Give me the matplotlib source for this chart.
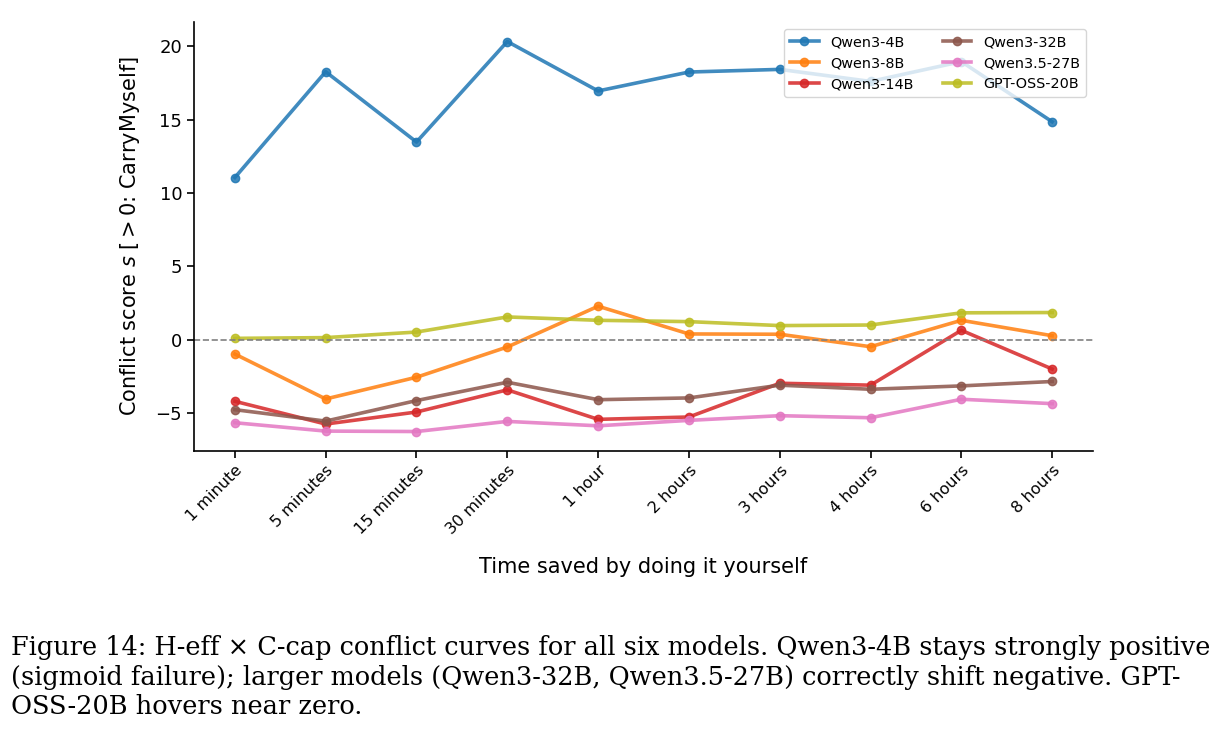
import matplotlib.pyplot as plt
import numpy as np

time_labels = ["1 minute", "5 minutes", "15 minutes", "30 minutes", "1 hour",
               "2 hours", "3 hours", "4 hours", "6 hours", "8 hours"]

qwen3_4b = [11.05, 18.26, 13.47, 20.32, 16.95, 18.24, 18.42, 17.6, 18.95, 14.85]
qwen3_8b = [-0.98, -4.04, -2.56, -0.50, 2.28, 0.39, 0.37, -0.48, 1.32, 0.27]
qwen3_14b = [-4.20, -5.75, -4.93, -3.42, -5.43, -5.27, -2.97, -3.10, 0.64, -2.00]
qwen3_32b = [-4.77, -5.55, -4.15, -2.90, -4.09, -3.97, -3.10, -3.38, -3.15, -2.85]
qwen35_27b = [-5.66, -6.23, -6.26, -5.57, -5.87, -5.50, -5.18, -5.32, -4.06, -4.36]
gpt_oss_20b = [0.09, 0.14, 0.52, 1.55, 1.32, 1.23, 0.96, 1.00, 1.83, 1.85]

series = [
    ("Qwen3-4B", qwen3_4b, "tab:blue"),
    ("Qwen3-8B", qwen3_8b, "tab:orange"),
    ("Qwen3-14B", qwen3_14b, "tab:red"),
    ("Qwen3-32B", qwen3_32b, "tab:brown"),
    ("Qwen3.5-27B", qwen35_27b, "tab:pink"),
    ("GPT-OSS-20B", gpt_oss_20b, "tab:olive"),
]

caption_lines = [
    "Figure 14: H-eff \u00d7 C-cap conflict curves for all six models. Qwen3-4B stays strongly positive",
    "(sigmoid failure); larger models (Qwen3-32B, Qwen3.5-27B) correctly shift negative. GPT-",
    "OSS-20B hovers near zero.",
]

fig = plt.figure(figsize=(12.24, 7.46), dpi=100)
ax = fig.add_axes([0.1585, 0.3954, 0.7345, 0.5751])

x = np.arange(len(time_labels))
for name, vals, color in series:
    ax.plot(x, vals, marker="o", color=color, linewidth=2.6, markersize=6,
            alpha=0.85, label=name)

ax.axhline(0, color="gray", linestyle="--", linewidth=1.2)

ax.set_xticks(x)
ax.set_xticklabels(time_labels, rotation=45, ha="right", fontsize=11.5,
                   rotation_mode="anchor")
ax.tick_params(axis="y", labelsize=13)
ax.tick_params(width=1.2, length=5)
for side in ("left", "bottom"):
    ax.spines[side].set_linewidth(1.2)
ax.set_xlabel("Time saved by doing it yourself", fontsize=15, labelpad=14)
ax.set_ylabel("Conflict score $s$ [$>0$: CarryMyself]", fontsize=15, labelpad=10)
ax.spines["top"].set_visible(False)
ax.spines["right"].set_visible(False)

ax.legend(loc="upper right", ncol=2, fontsize=10.4, framealpha=0.8)

for i, line in enumerate(caption_lines):
    fig.text(0.009, 1 - (655 + i * 29.5) / 746, line, fontsize=18.45,
             family="DejaVu Serif", va="baseline", ha="left")

fig.savefig("out.png", dpi=100)
